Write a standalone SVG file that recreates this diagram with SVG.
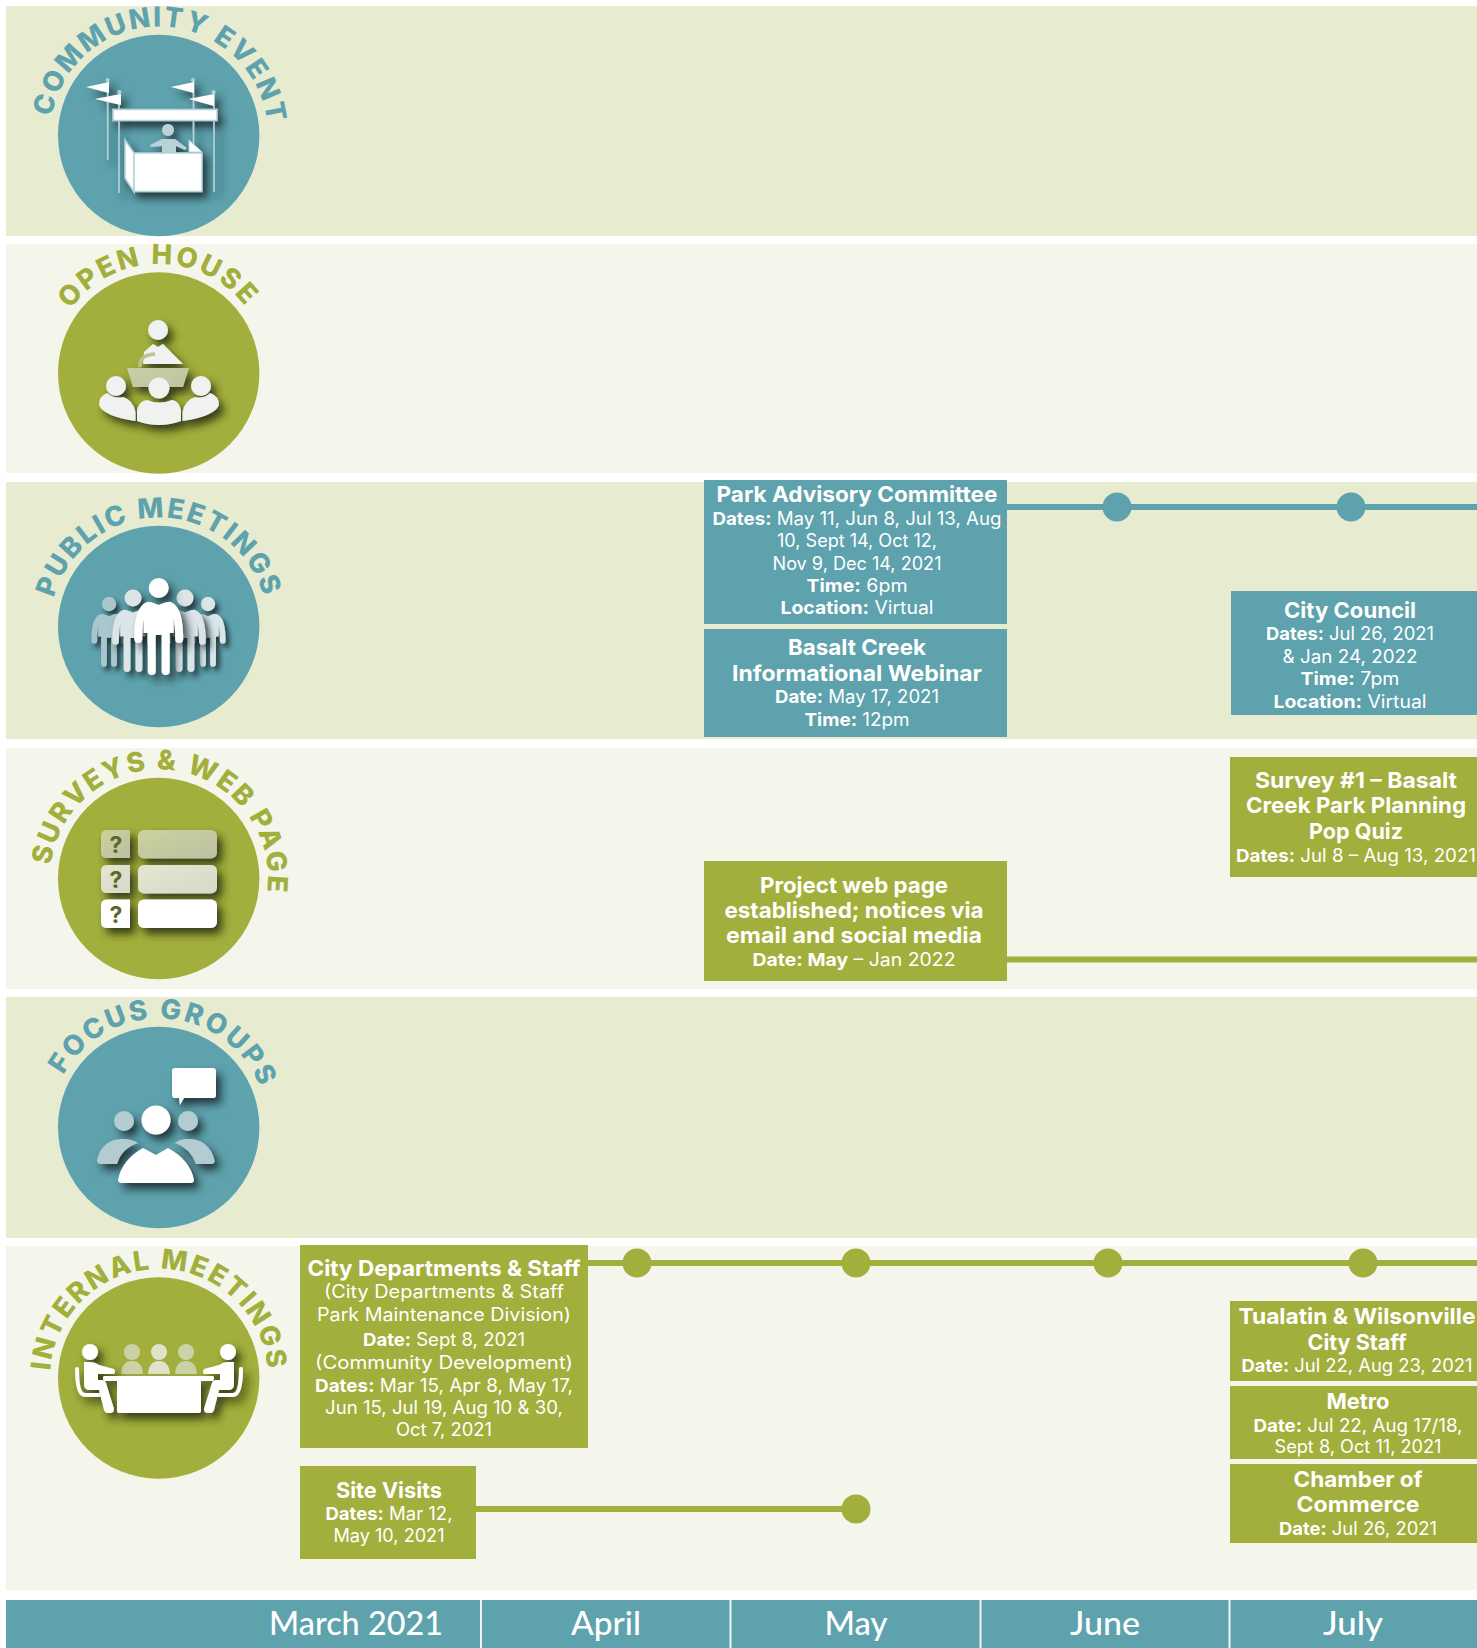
<svg xmlns="http://www.w3.org/2000/svg" xmlns:xlink="http://www.w3.org/1999/xlink" width="1477" height="1648" viewBox="0 0 1477 1648">
<style>
text{font-family:"Inter","Liberation Sans",sans-serif;fill:#fff}
.bl{fill:#e7ebd0}.bg{fill:#f4f6ec}
.teal{fill:#5ea2ad}.green{fill:#a2af3c}
.t{font-size:22px;font-weight:700;text-anchor:middle}
.b{font-size:18px;font-weight:400;text-anchor:middle}
.l{font-weight:700}
.arc{font-size:27.5px;font-weight:800;text-anchor:middle}
.arct{fill:#5ea2ad}.arcg{fill:#a2af3c}
.m{font-family:"Lato","Liberation Sans",sans-serif;font-size:33px;font-weight:500;text-anchor:middle}
.ct{stroke:#5ea2ad;stroke-width:6;fill:none}.cg{stroke:#a2af3c;stroke-width:6;fill:none}
.pale{stroke:#b4d2d8;stroke-width:1.6;fill:none}
.q{font-family:"Inter","Liberation Sans",sans-serif;font-size:23px;font-weight:700;text-anchor:middle;fill:#5d6729}
</style>
<defs>
<path id="arc" d="M-54.5 94.4A109 109 0 1 1 54.5 94.4"/>
<filter id="st" x="-30%" y="-30%" width="170%" height="170%"><feDropShadow dx="5" dy="6" stdDeviation="4" flood-color="#13282c" flood-opacity=".85"/></filter>
<filter id="sg" x="-30%" y="-30%" width="170%" height="170%"><feDropShadow dx="5" dy="6" stdDeviation="4" flood-color="#262c08" flood-opacity=".85"/></filter>
<linearGradient id="pod" x1="0" y1="0" x2="1" y2="1"><stop offset="0" stop-color="#c9cea6"/><stop offset="1" stop-color="#bcc4a0"/></linearGradient>
<linearGradient id="r1" x1="0" y1="0" x2="1" y2="1"><stop offset="0" stop-color="#ccd29c"/><stop offset="1" stop-color="#bcc0a4"/></linearGradient>
<linearGradient id="r2" x1="0" y1="0" x2="1" y2="1"><stop offset="0" stop-color="#e4e7cf"/><stop offset="1" stop-color="#d6d8cb"/></linearGradient>
<g id="man">
<circle cx="0" cy="0" r="10" fill="currentColor"/>
<path fill="currentColor" d="M-15 22Q-15 15-8 14L0 17 8 14Q15 15 15 22V45H11V83A4 4 0 0 1 3 83V47H-3V83A4 4 0 0 1-11 83V45H-15Z"/>
<path fill="none" stroke="currentColor" stroke-width="8" stroke-linecap="round" d="M-11 18Q-20.500 22-20.500 51M11 18Q20.500 22 20.500 51"/>
</g>
<g id="sitter">
<circle cx="90" cy="1352" r="8"/>
<path d="M84 1362H90Q95 1362 99 1365L114 1369Q116 1372 114 1374L98 1374V1380H102Q105 1380 106 1383L114 1409Q114 1413 110 1413H107Q105 1413 104 1410L99 1390H90Q84 1390 84 1384Z"/>
<path d="M77 1369Q77 1395 85 1395H99" fill="none" stroke="#fff" stroke-width="4" stroke-linecap="round"/>
</g>
</defs>

<g id="bands">
<rect class="bl" x="6" y="6" width="1471" height="230"/>
<rect class="bg" x="6" y="244" width="1471" height="229"/>
<rect class="bl" x="6" y="482" width="1471" height="257"/>
<rect class="bg" x="6" y="748" width="1471" height="241"/>
<rect class="bl" x="6" y="997" width="1471" height="241"/>
<rect class="bg" x="6" y="1246" width="1471" height="344"/>
</g>

<g id="community-event">
<circle class="teal" cx="158.7" cy="135.5" r="100.7"/>
<text class="arc arct" transform="translate(159 135.5) rotate(2)" letter-spacing="2"><textPath href="#arc" startOffset="50%">COMMUNITY EVENT</textPath></text>
<g filter="url(#st)">
<path class="pale" d="M107.7 80V160M119 92V193M193.5 80V152M214 92V192"/>
<circle cx="107.7" cy="80" r="2" fill="#b4d2d8"/><circle cx="119.5" cy="92" r="2" fill="#b4d2d8"/><circle cx="193" cy="80" r="2" fill="#b4d2d8"/><circle cx="213.5" cy="92" r="2" fill="#b4d2d8"/>
<path fill="#fff" d="M109 82V93L86 87ZM121 94V105L95 99ZM194 82V93L171 87ZM214 94V106L189 99Z"/>
<rect x="113" y="109.500" width="104" height="11" fill="#fff" stroke="#b4d2d8" stroke-width="1.500"/>
<circle cx="168" cy="130" r="6" fill="#b9d2d7"/>
<path fill="#b9d2d7" d="M150 145L162 139H175L187 148 185 150 176 146V153H162V146L151 147Z"/>
<path fill="#fff" stroke="#b4d2d8" stroke-width="1.500" d="M125 140L134 153V192L125 178Z"/>
<path fill="#fff" stroke="#b4d2d8" stroke-width="1" d="M189 140L202 152H189Z"/>
<rect x="134" y="153" width="68" height="38.500" fill="#fff" stroke="#b4d2d8" stroke-width="1.500"/>
</g>
</g>

<g id="open-house">
<circle class="green" cx="158.7" cy="373" r="100.7"/>
<text class="arc arcg" transform="translate(159 373) rotate(-.5)" letter-spacing="2.500"><textPath href="#arc" startOffset="50%">OPEN HOUSE</textPath></text>
<g filter="url(#sg)" fill="#f0f1f1">
<circle cx="158" cy="330" r="10"/>
<path d="M144 352L153 344 158 347 163 344 183 364H143Z"/>
<path d="M140 367Q139 355 155 354" fill="none" stroke="#bcc48a" stroke-width="3.500"/>
<path fill="url(#pod)" d="M127 368H189L183 387H133Z"/>
<circle cx="116" cy="386" r="10"/><circle cx="201" cy="386" r="10"/>
<path d="M135.500 421V412Q133 400 123 397 114 399 107 393 99 396 99 405 103 416 135.500 421Z"/>
<path d="M182.500 421V412Q185 400 195 397 204 399 210 393 219 396 219 405 215 416 182.500 421Z"/>
<path d="M137 421V410Q139 401 147 400 159 405 172 400 179 401 181 410V421Q159 429 137 421Z"/>
<circle cx="159" cy="388" r="10.500"/>
</g>
</g>

<g id="public-meetings">
<circle class="teal" cx="158.7" cy="626.500" r="100.7"/>
<text class="arc arct" transform="translate(159 626.500)" letter-spacing="2.200"><textPath href="#arc" startOffset="50%">PUBLIC MEETINGS</textPath></text>
<use href="#man" filter="url(#st)" transform="translate(109 604) scale(.72)" color="#a9c6cc"/>
<use href="#man" filter="url(#st)" transform="translate(208 604) scale(.72)" color="#d8e6e8"/>
<use href="#man" filter="url(#st)" transform="translate(133 598) scale(.85)" color="#dbe5e8"/>
<use href="#man" filter="url(#st)" transform="translate(185 598) scale(.85)" color="#dbe5e8"/>
<use href="#man" filter="url(#st)" transform="translate(158.700 588)" color="#fff"/>
</g>

<g id="surveys-web-page">
<circle class="green" cx="158.7" cy="878.500" r="100.7"/>
<text class="arc arcg" transform="translate(159 878.500) rotate(7.500)" letter-spacing="2.100"><textPath href="#arc" startOffset="50%">SURVEYS &amp; WEB PAGE</textPath></text>
<g filter="url(#sg)">
<path fill="url(#r1)" d="M107 830H130V858H107Q101 858 101 852V836Q101 830 107 830Z"/>
<rect x="138" y="830" width="79" height="28.500" rx="6" fill="url(#r1)"/>
<path fill="url(#r2)" d="M107 865H130V893H107Q101 893 101 887V871Q101 865 107 865Z"/>
<rect x="138" y="865" width="79" height="28.500" rx="6" fill="url(#r2)"/>
<path fill="#fff" d="M107 899.500H130V928H107Q101 928 101 922V905.500Q101 899.500 107 899.500Z"/>
<rect x="138" y="899.500" width="79" height="28.500" rx="6" fill="#fff"/>
</g>
<text class="q" x="116" y="853">?</text><text class="q" x="116" y="888">?</text><text class="q" x="116" y="923">?</text>
</g>

<g id="focus-groups">
<circle class="teal" cx="158.7" cy="1127.500" r="100.7"/>
<text class="arc arct" transform="translate(159 1127.500) rotate(4)" letter-spacing="2.500"><textPath href="#arc" startOffset="50%">FOCUS GROUPS</textPath></text>
<g filter="url(#st)">
<path fill="#b3ccd2" d="M97 1160Q102 1139 123 1139 132 1139 138 1143 122 1148 117 1164H101Q97 1164 97 1160Z"/>
<path fill="#b3ccd2" d="M214.500 1160Q209 1139 188 1139 180 1139 175 1143 190 1148 196 1164H211Q215 1164 214.500 1160Z"/>
<circle cx="124" cy="1121" r="10" fill="#b3ccd2"/><circle cx="188" cy="1121" r="10" fill="#b3ccd2"/>
<path fill="#fff" d="M118 1180Q122 1160 143 1148L156 1155 168 1148Q190 1160 194 1180 194 1183 190 1183H122Q118 1183 118 1180Z"/>
<circle cx="156" cy="1120" r="14.500" fill="#fff"/>
<path fill="#fff" d="M175 1068H213Q216 1068 216 1071V1095Q216 1098 213 1098H184L180 1105 179 1098H175Q172 1098 172 1095V1071Q172 1068 175 1068Z"/>
</g>
</g>

<g id="internal-meetings">
<circle class="green" cx="158.7" cy="1378" r="100.7"/>
<text class="arc arcg" transform="translate(159 1378)" letter-spacing="2.100"><textPath href="#arc" startOffset="50%">INTERNAL MEETINGS</textPath></text>
<g fill="#ccd2a8">
<circle cx="132" cy="1352" r="8"/><path d="M121 1374Q122 1361 132 1361 142 1361 143 1374Z"/>
</g>
<g fill="#e0e3cb">
<circle cx="159" cy="1352" r="8"/><path d="M148 1374Q149 1361 159 1361 169 1361 170 1374Z"/>
</g>
<g fill="#ccd2a8">
<circle cx="186" cy="1352" r="8"/><path d="M175 1374Q176 1361 186 1361 196 1361 197 1374Z"/>
</g>
<g filter="url(#sg)" fill="#fff">
<use href="#sitter"/>
<use href="#sitter" transform="translate(318 0) scale(-1 1)"/>
<path d="M104 1376H213Q215 1378 213 1381H201V1411Q201 1413 199 1413H119Q117 1413 117 1411V1381H104Q102 1378 104 1376Z"/>
</g>
</g>

<g id="connectors">
<path class="ct" d="M1007 507H1477"/>
<circle class="teal" cx="1117" cy="507" r="14.500"/><circle class="teal" cx="1351" cy="507" r="14.500"/>
<path class="cg" d="M1007 959.500H1477"/>
<path class="cg" d="M588 1263H1477"/>
<circle class="green" cx="637" cy="1263" r="14.500"/><circle class="green" cx="856" cy="1263" r="14.500"/><circle class="green" cx="1108" cy="1263" r="14.500"/><circle class="green" cx="1363" cy="1263" r="14.500"/>
<path class="cg" d="M476 1509H856"/>
<circle class="green" cx="856" cy="1509" r="14.500"/>
</g>

<g id="park-advisory-committee">
<rect class="teal" x="704" y="480" width="303" height="144"/>
<text class="t" x="857" y="502" textLength="281" lengthAdjust="spacingAndGlyphs">Park Advisory Committee</text>
<text class="b" x="857" y="525" textLength="289" lengthAdjust="spacingAndGlyphs"><tspan class="l">Dates:</tspan> May 11, Jun 8, Jul 13, Aug</text>
<text class="b" x="857" y="547" textLength="160" lengthAdjust="spacingAndGlyphs">10, Sept 14, Oct 12,</text>
<text class="b" x="857" y="570" textLength="169" lengthAdjust="spacingAndGlyphs">Nov 9, Dec 14, 2021</text>
<text class="b" x="857" y="592" textLength="101" lengthAdjust="spacingAndGlyphs"><tspan class="l">Time:</tspan> 6pm</text>
<text class="b" x="857" y="614" textLength="153" lengthAdjust="spacingAndGlyphs"><tspan class="l">Location:</tspan> Virtual</text>
</g>
<g id="basalt-creek-webinar">
<rect class="teal" x="704" y="629" width="303" height="108"/>
<text class="t" x="857" y="655" textLength="138" lengthAdjust="spacingAndGlyphs">Basalt Creek</text>
<text class="t" x="857" y="681" textLength="250" lengthAdjust="spacingAndGlyphs">Informational Webinar</text>
<text class="b" x="857" y="703" textLength="164" lengthAdjust="spacingAndGlyphs"><tspan class="l">Date:</tspan> May 17, 2021</text>
<text class="b" x="857" y="726" textLength="105" lengthAdjust="spacingAndGlyphs"><tspan class="l">Time:</tspan> 12pm</text>
</g>
<g id="city-council">
<rect class="teal" x="1231" y="591" width="246" height="124"/>
<text class="t" x="1350" y="618" textLength="132" lengthAdjust="spacingAndGlyphs">City Council</text>
<text class="b" x="1350" y="640" textLength="168" lengthAdjust="spacingAndGlyphs"><tspan class="l">Dates:</tspan> Jul 26, 2021</text>
<text class="b" x="1350" y="663" textLength="135" lengthAdjust="spacingAndGlyphs">&amp; Jan 24, 2022</text>
<text class="b" x="1350" y="685" textLength="99" lengthAdjust="spacingAndGlyphs"><tspan class="l">Time:</tspan> 7pm</text>
<text class="b" x="1350" y="708" textLength="153" lengthAdjust="spacingAndGlyphs"><tspan class="l">Location:</tspan> Virtual</text>
</g>
<g id="survey-1">
<rect class="green" x="1230" y="757" width="247" height="120"/>
<text class="t" x="1356" y="788" textLength="202" lengthAdjust="spacingAndGlyphs">Survey #1 – Basalt</text>
<text class="t" x="1356" y="813" textLength="220" lengthAdjust="spacingAndGlyphs">Creek Park Planning</text>
<text class="t" x="1356" y="839" textLength="94" lengthAdjust="spacingAndGlyphs">Pop Quiz</text>
<text class="b" x="1356" y="862" textLength="240" lengthAdjust="spacingAndGlyphs"><tspan class="l">Dates:</tspan> Jul 8 – Aug 13, 2021</text>
</g>
<g id="project-web-page">
<rect class="green" x="704" y="861" width="303" height="120"/>
<text class="t" x="854" y="893" textLength="188" lengthAdjust="spacingAndGlyphs">Project web page</text>
<text class="t" x="854" y="918" textLength="259" lengthAdjust="spacingAndGlyphs">established; notices via</text>
<text class="t" x="854" y="943" textLength="256" lengthAdjust="spacingAndGlyphs">email and social media</text>
<text class="b" x="854" y="966" textLength="203" lengthAdjust="spacingAndGlyphs"><tspan class="l">Date: May</tspan> – Jan 2022</text>
</g>
<g id="city-departments-staff">
<rect class="green" x="300" y="1245" width="288" height="203"/>
<text class="t" x="444" y="1276" textLength="273" lengthAdjust="spacingAndGlyphs">City Departments &amp; Staff</text>
<text class="b" x="444" y="1298" textLength="240" lengthAdjust="spacingAndGlyphs">(City Departments &amp; Staff</text>
<text class="b" x="444" y="1321" textLength="254" lengthAdjust="spacingAndGlyphs">Park Maintenance Division)</text>
<text class="b" x="444" y="1346" textLength="162" lengthAdjust="spacingAndGlyphs"><tspan class="l">Date:</tspan> Sept 8, 2021</text>
<text class="b" x="444" y="1369" textLength="258" lengthAdjust="spacingAndGlyphs">(Community Development)</text>
<text class="b" x="444" y="1392" textLength="258" lengthAdjust="spacingAndGlyphs"><tspan class="l">Dates:</tspan> Mar 15, Apr 8, May 17,</text>
<text class="b" x="444" y="1414" textLength="238" lengthAdjust="spacingAndGlyphs">Jun 15, Jul 19, Aug 10 &amp; 30,</text>
<text class="b" x="444" y="1436" textLength="96" lengthAdjust="spacingAndGlyphs">Oct 7, 2021</text>
</g>
<g id="site-visits">
<rect class="green" x="300" y="1466" width="176" height="93"/>
<text class="t" x="389" y="1498" textLength="106" lengthAdjust="spacingAndGlyphs">Site Visits</text>
<text class="b" x="389" y="1520" textLength="127" lengthAdjust="spacingAndGlyphs"><tspan class="l">Dates:</tspan> Mar 12,</text>
<text class="b" x="389" y="1542" textLength="111" lengthAdjust="spacingAndGlyphs">May 10, 2021</text>
</g>
<g id="tualatin-wilsonville">
<rect class="green" x="1230" y="1301" width="247" height="80"/>
<text class="t" x="1357" y="1324" textLength="237" lengthAdjust="spacingAndGlyphs">Tualatin &amp; Wilsonville</text>
<text class="t" x="1357" y="1350" textLength="99" lengthAdjust="spacingAndGlyphs">City Staff</text>
<text class="b" x="1357" y="1372" textLength="231" lengthAdjust="spacingAndGlyphs"><tspan class="l">Date:</tspan> Jul 22, Aug 23, 2021</text>
</g>
<g id="metro">
<rect class="green" x="1230" y="1386" width="247" height="73"/>
<text class="t" x="1358" y="1409" textLength="63" lengthAdjust="spacingAndGlyphs">Metro</text>
<text class="b" x="1358" y="1432" textLength="209" lengthAdjust="spacingAndGlyphs"><tspan class="l">Date:</tspan> Jul 22, Aug 17/18,</text>
<text class="b" x="1358" y="1453" textLength="167" lengthAdjust="spacingAndGlyphs">Sept 8, Oct 11, 2021</text>
</g>
<g id="chamber-of-commerce">
<rect class="green" x="1230" y="1464" width="247" height="79"/>
<text class="t" x="1358" y="1487" textLength="129" lengthAdjust="spacingAndGlyphs">Chamber of</text>
<text class="t" x="1358" y="1512" textLength="123" lengthAdjust="spacingAndGlyphs">Commerce</text>
<text class="b" x="1358" y="1535" textLength="158" lengthAdjust="spacingAndGlyphs"><tspan class="l">Date:</tspan> Jul 26, 2021</text>
</g>

<g id="timeline-header">
<rect class="teal" x="6" y="1600" width="1471" height="48"/>
<path d="M481 1600V1648M730.500 1600V1648M980.500 1600V1648M1229.500 1600V1648" stroke="#f0f3f3" stroke-width="2" fill="none"/>
<text class="m" x="356" y="1635" textLength="174" lengthAdjust="spacingAndGlyphs">March 2021</text>
<text class="m" x="606" y="1635" textLength="70" lengthAdjust="spacingAndGlyphs">April</text>
<text class="m" x="856" y="1635" textLength="63" lengthAdjust="spacingAndGlyphs">May</text>
<text class="m" x="1105" y="1635" textLength="70" lengthAdjust="spacingAndGlyphs">June</text>
<text class="m" x="1353" y="1635" textLength="60" lengthAdjust="spacingAndGlyphs">July</text>
</g>
</svg>
